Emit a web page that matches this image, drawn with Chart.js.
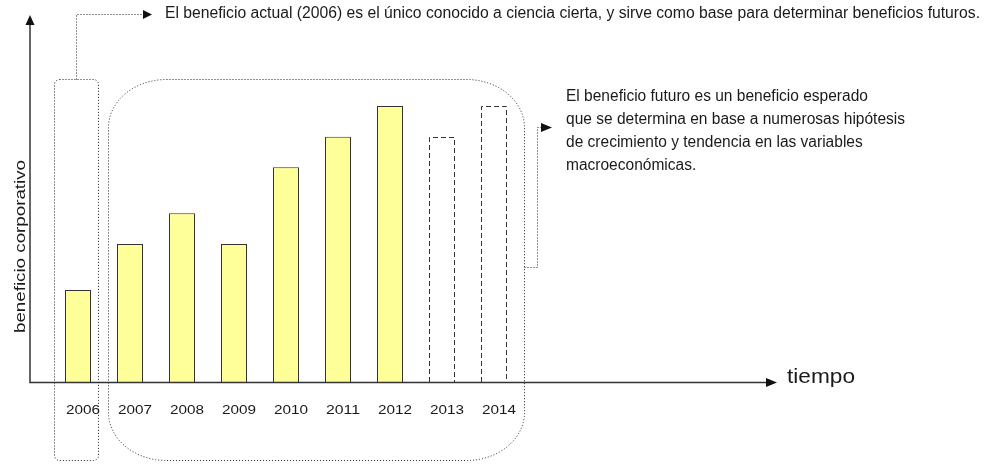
<!DOCTYPE html>
<html>
<head>
<meta charset="utf-8">
<script src="https://cdn.jsdelivr.net/npm/chart.js@4/dist/chart.umd.min.js"></script>
<style>
  html, body { margin: 0; padding: 0; background: #fff; }
  canvas { display: block; }
</style>
</head>
<body>
<canvas id="chart" width="985" height="464"></canvas>
<script>
// data (arbitrary units)
const years = ['2006', '2007', '2008', '2009', '2010', '2011', '2012', '2013', '2014'];
const actualValues = [3, 4.5, 5.5, 4.5, 7, 8, 9, null, null];
const expectedValues = [null, null, null, null, null, null, null, 8, 9];
const yMax = 12;

const topNote = 'El beneficio actual (2006) es el único conocido a ciencia cierta, y sirve como base para determinar beneficios futuros.';
const sideNote = [
    'El beneficio futuro es un beneficio esperado',
    'que se determina en base a numerosas hipótesis',
    'de crecimiento y tendencia en las variables',
    'macroeconómicas.'
];
const xTitle = 'tiempo';
const yTitle = 'beneficio corporativo';

const FONT = '"Liberation Sans", Arial, sans-serif';
const INK = '#1a1a1a';
const LINE = '#333';

function fitText(ctx, text, x, y, width, size) {
    ctx.save();
    ctx.font = size + 'px ' + FONT;
    const w = ctx.measureText(text).width;
    ctx.translate(x, y);
    ctx.scale(width / w, 1);
    ctx.fillText(text, 0, 0);
    ctx.restore();
}

function arrowHead(ctx, tipX, tipY, dir, len, half) {
    ctx.beginPath();
    if (dir === 'right') {
        ctx.moveTo(tipX, tipY);
        ctx.lineTo(tipX - len, tipY - half);
        ctx.lineTo(tipX - len, tipY + half);
    } else {
        ctx.moveTo(tipX, tipY);
        ctx.lineTo(tipX - half, tipY + len);
        ctx.lineTo(tipX + half, tipY + len);
    }
    ctx.closePath();
    ctx.fill();
}

function roundBox(ctx, l, t, r, b, rx, ry) {
    ctx.beginPath();
    ctx.moveTo(l + rx, t);
    ctx.lineTo(r - rx, t);
    ctx.ellipse(r - rx, t + ry, rx, ry, 0, -Math.PI / 2, 0);
    ctx.lineTo(r, b - ry);
    ctx.ellipse(r - rx, b - ry, rx, ry, 0, 0, Math.PI / 2);
    ctx.lineTo(l + rx, b);
    ctx.ellipse(l + rx, b - ry, rx, ry, 0, Math.PI / 2, Math.PI);
    ctx.lineTo(l, t + ry);
    ctx.ellipse(l + rx, t + ry, rx, ry, 0, Math.PI, Math.PI * 1.5);
    ctx.closePath();
    ctx.stroke();
}

const sketchPlugin = {
    id: 'sketch',
    afterDatasetsDraw(chart) {
        // forecast bars: dashed outline, no fill
        const ctx = chart.ctx;
        const meta = chart.getDatasetMeta(1);
        ctx.save();
        ctx.strokeStyle = LINE;
        ctx.lineWidth = 1;
        ctx.setLineDash([5, 3]);
        meta.data.forEach((bar, i) => {
            if (expectedValues[i] == null) return;
            const p = bar.getProps(['x', 'y', 'base', 'width'], true);
            const l = Math.round(p.x - p.width / 2) + 0.5;
            const r = Math.round(p.x + p.width / 2) - 0.5;
            const t = Math.round(p.y) + 0.5;
            ctx.beginPath();
            ctx.moveTo(l, p.base);
            ctx.lineTo(l, t);
            ctx.lineTo(r, t);
            ctx.lineTo(r, p.base);
            ctx.stroke();
        });
        ctx.restore();
    },
    afterDraw(chart) {
        const ctx = chart.ctx;
        const x = chart.scales.x;
        const y = chart.scales.y;
        const base = Math.round(y.getPixelForValue(0)) + 0.5;
        const axisX = 30;

        ctx.save();
        // axes
        ctx.strokeStyle = LINE;
        ctx.fillStyle = '#111';
        ctx.lineWidth = 1.5;
        ctx.beginPath();
        ctx.moveTo(axisX, y.getPixelForValue(yMax) + 8);
        ctx.lineTo(axisX, base);
        ctx.lineTo(768, base);
        ctx.stroke();
        arrowHead(ctx, axisX, y.getPixelForValue(yMax) + 1, 'up', 10, 4.5);
        arrowHead(ctx, 777, base, 'right', 11, 4.5);

        // year labels
        ctx.fillStyle = INK;
        ctx.textBaseline = 'middle';
        years.forEach((yr, i) => {
            const cx = x.getPixelForValue(i) + 5;
            fitText(ctx, yr, cx - 17, 410, 34, 13);
        });

        // axis titles
        ctx.textBaseline = 'alphabetic';
        fitText(ctx, xTitle, 787, 383, 68, 21);
        ctx.save();
        ctx.translate(25, 247);
        ctx.rotate(-Math.PI / 2);
        fitText(ctx, yTitle, -86, 0, 173, 15);
        ctx.restore();

        // notes
        ctx.textBaseline = 'middle';
        fitText(ctx, topNote, 165, 14, 815, 16);
        ctx.font = '16px ' + FONT;
        const sx = 339 / ctx.measureText(sideNote[1]).width;
        sideNote.forEach((line, i) => {
            ctx.save();
            ctx.translate(566, 97 + i * 23);
            ctx.scale(sx, 1);
            ctx.font = '16px ' + FONT;
            ctx.fillText(line, 0, 0);
            ctx.restore();
        });

        // dotted frames and connectors
        ctx.strokeStyle = '#222';
        ctx.fillStyle = '#111';
        ctx.lineWidth = 1;
        ctx.setLineDash([1, 2]);
        roundBox(ctx, 54.5, 79.5, 98.5, 460.5, 5, 5);
        roundBox(ctx, 108.5, 79.5, 524.5, 460.5, 58, 48);

        ctx.beginPath();
        ctx.moveTo(76.5, 79.5);
        ctx.lineTo(76.5, 14.5);
        ctx.lineTo(143, 14.5);
        ctx.stroke();

        ctx.beginPath();
        ctx.moveTo(524.5, 267.5);
        ctx.lineTo(537.5, 267.5);
        ctx.lineTo(537.5, 127.5);
        ctx.lineTo(541, 127.5);
        ctx.stroke();

        ctx.setLineDash([]);
        arrowHead(ctx, 152, 14.5, 'right', 9, 4.5);
        arrowHead(ctx, 552, 127.5, 'right', 11, 4.5);
        ctx.restore();
    }
};

new Chart(document.getElementById('chart'), {
    type: 'bar',
    data: {
        labels: years,
        datasets: [
            {
                label: 'beneficio actual',
                data: actualValues,
                backgroundColor: '#FFFF99',
                borderColor: LINE,
                borderWidth: 1,
                borderSkipped: 'start',
                barPercentage: 0.5,
                categoryPercentage: 1,
                grouped: false
            },
            {
                label: 'beneficio esperado',
                data: expectedValues,
                backgroundColor: 'rgba(0,0,0,0)',
                borderWidth: 0,
                barPercentage: 0.5,
                categoryPercentage: 1,
                grouped: false
            }
        ]
    },
    options: {
        responsive: false,
        devicePixelRatio: 1,
        animation: false,
        layout: { padding: { left: 52, right: 465, top: 14, bottom: 82 } },
        plugins: {
            legend: { display: false },
            tooltip: { enabled: false }
        },
        scales: {
            x: { display: false },
            y: { display: false, min: 0, max: yMax }
        }
    },
    plugins: [sketchPlugin]
});
</script>
</body>
</html>
